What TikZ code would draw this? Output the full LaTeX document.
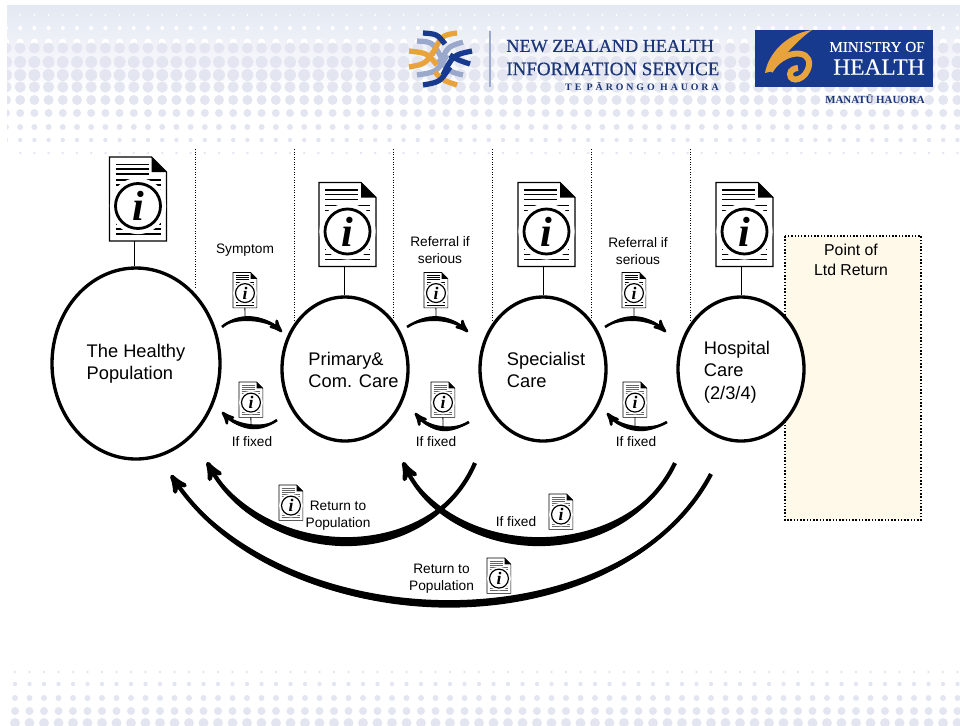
\documentclass[tikz,border=0pt]{standalone}
\usepackage{fontspec}
\setmainfont{Liberation Sans}
\newfontfamily\logoserif[FakeBold=0.4]{Liberation Serif}
\newfontfamily\infoserif{Liberation Serif}
\newfontfamily\logospaced[LetterSpace=30]{Liberation Serif}
\usepackage{xcolor}
\usetikzlibrary{arrows,positioning,shapes.geometric}
\definecolor{bandblue}{HTML}{E3E8F2}
\definecolor{dotblue}{HTML}{E3E6F0}
\definecolor{logonavy}{HTML}{1C3578}
\definecolor{logoblue}{HTML}{17398E}
\definecolor{logoorange}{HTML}{E8A33D}
\definecolor{logogrey}{HTML}{9AA8CC}
\definecolor{boxyellow}{HTML}{FFF9EA}
\tikzset{
>=stealth',
  caremode/.style={
    ellipse,
    draw=black, line width=1.9pt,
    fill=white,
    inner sep=0pt},
  bigtext/.style={font=\fontsize{10.4}{12.8}\selectfont, align=left, inner sep=0pt},
  smalltext/.style={font=\fontsize{7.8}{9.7}\selectfont, align=center, inner sep=0pt},
  divider/.style={densely dotted, line width=.45pt},
  stem/.style={line width=.55pt},
  smallarrow/.style={line width=1.5pt, ->},
  bigarrow/.style={line width=2.4pt, ->},
  weave/.style={line width=3pt},
  pics/infodoc/.style args={#1:#2}{
    code={
      \begin{scope}[scale=#1, line width=#1*.75pt]
        \filldraw[draw=black, fill=white] (0,0) -- (42,0) -- (57,15) -- (57,84) -- (0,84) -- cycle;
        \fill[black] (42,0) -- (57,15) -- (42,15) -- cycle;
        \foreach \ly in {7.5,12,17} {
          \draw[#2] (6,\ly) -- (39,\ly);
        }
        \foreach \ly in {23,28,33,38,43,50,56,62,67,72,77} {
          \draw[#2] (6,\ly) -- (51,\ly);
        }
        \filldraw[draw=white, line width=#1*3pt, fill=white] (28.5,49) circle (25.5);
        \filldraw[draw=black, line width=#1*1.6pt, fill=white] (28.5,49) circle (22.5);
        \node[transform shape, inner sep=0pt, font=\infoserif\bfseries\itshape\fontsize{24}{24}\selectfont] (-i) at (28.5,49) {i};
        \coordinate (-s) at (28.5,84);
      \end{scope}
    }
  }
}
\begin{document}
\begin{tikzpicture}[x=.2mm, y=-.2mm]
    \useasboundingbox (0,0) rectangle (960,725);

    % top band
    \shade[top color=bandblue, bottom color=white] (7,5) rectangle (960,95);
    \begin{scope}
      \clip (7,5) rectangle (960,160);
      \foreach \ry/\rr in {15/1,28/2,42/3.5} {
        \foreach \x in {6,20.2,...,960} {
          \fill[white] (\x,\ry) circle (\rr);
        }
      }
      \foreach \ry/\rr in {48/5.5,62/6,75/6,87/5.6,100/5,113/4,127/3,140/2.2,153/1.4} {
        \foreach \x in {6,20.2,...,960} {
          \fill[dotblue] (\x,\ry) circle (\rr);
        }
      }
    \end{scope}
    % bottom band
    \foreach \ry/\rr in {672/1.4,684/2.2,698/3,711/4,723/5} {
      \foreach \x in {15,29.5,...,960} {
        \fill[dotblue] (\x,\ry) circle (\rr);
      }
    }

    % health information service logo
    \draw[weave, logogrey] (417,41) .. controls (433,42) .. (442,59);
    \draw[weave, logogrey] (463,42) .. controls (447,47) .. (440,65);
    \draw[weave, logogrey] (417,75) .. controls (437,72) .. (447,55);
    \draw[weave, logogrey] (463,75) .. controls (450,72) .. (438,59);
    \draw[weave, logoorange] (457,33) .. controls (442,35) .. (432,55);
    \draw[weave, logoorange] (409,51) .. controls (427,53) .. (437,65);
    \draw[weave, logoorange] (409,67) .. controls (425,64) .. (433,52);
    \draw[weave, logoorange] (457,85) .. controls (442,80) .. (435,72);
    \draw[weave, logoblue] (423,33) .. controls (437,34) .. (445,44);
    \draw[weave, logoblue] (472,51) .. controls (453,55) .. (443,75);
    \draw[weave, logoblue] (470,64) .. controls (458,60) .. (450,55);
    \draw[weave, logoblue] (423,85) .. controls (440,82) .. (450,67);
    \draw[logogrey, line width=.6pt] (490,31) -- (490,87);
    \node[inner sep=0pt, anchor=west, text=logonavy, font=\logoserif\fontsize{10.35}{12}\selectfont] (nzhone) at (506,46) {NEW ZEALAND HEALTH};
    \node[inner sep=0pt, anchor=west, text=logonavy, font=\logoserif\fontsize{10.8}{12}\selectfont] (nzhtwo) at (506,69) {INFORMATION SERVICE};
    \node[inner sep=0pt, anchor=east, text=logonavy, font=\logospaced\bfseries\fontsize{5.6}{7}\selectfont] (nzhthree) at (719,86.5) {TE PĀRONGO HAUORA};

    % ministry logo
    \fill[logoblue] (755,30) rectangle (933,87);
    \fill[logoorange] (812,30) .. controls (785,34) and (768,55) .. (765,73) -- (773,71) .. controls (783,56) and (800,38) .. (812,30) -- cycle;
    \draw[logoorange, line width=3.4pt] (770,71) .. controls (782,50) and (811,48) .. (809,65) .. controls (807,80) and (790,84) .. (790,74) .. controls (790,70) and (795,68) .. (798,68);
    \node[inner sep=0pt, anchor=east, text=white, font=\logoserif\fontsize{8.6}{10}\selectfont] (mohone) at (925,47) {MINISTRY OF};
    \node[inner sep=0pt, anchor=east, text=white, font=\logoserif\fontsize{13.3}{15}\selectfont] (mohtwo) at (925,67) {HEALTH};
    \node[inner sep=0pt, anchor=east, text=logonavy, font=\infoserif\bfseries\fontsize{6.2}{7}\selectfont] (mohthree) at (925,99) {MANATŪ HAUORA};

    % return box
    \filldraw[draw=black, densely dotted, line width=.85pt, fill=boxyellow] (785,236) rectangle (921,520);

    % dividers
    \coordinate (dA) at (195,149);
    \coordinate (dB) at (294,149);
    \coordinate (dC) at (393,149);
    \coordinate (dD) at (492,149);
    \coordinate (dE) at (591,149);
    \coordinate (dF) at (690,149);
    \draw[divider] (dA) -- (195,288);
    \draw[divider] (dB) -- (294,322);
    \draw[divider] (dC) -- (393,318);
    \draw[divider] (dD) -- (492,322);
    \draw[divider] (dE) -- (591,318);
    \draw[divider] (dF) -- (690,322);

    % care circles
    \node[caremode, minimum width=33.6mm, minimum height=38.2mm] (healthy) at (136,363.5) {};
    \node[caremode, minimum width=25.2mm, minimum height=28.8mm] (primary) at (345,369) {};
    \node[caremode, minimum width=25.2mm, minimum height=28.8mm] (specialist) at (543,369) {};
    \node[caremode, minimum width=25.2mm, minimum height=28.8mm] (hospital) at (741,369) {};

    % large documents
    \pic (docA) at (109.5,157) {infodoc=1:black};
    \pic (docB) at (319,182.5) {infodoc=1:black};
    \pic (docC) at (518,182.5) {infodoc=1:black};
    \pic (docD) at (716,182.5) {infodoc=1:black};
    \draw[stem] ([xshift=-.8mm]docA-s) -- ([xshift=-.8mm]docA-s |- healthy.north);
    \draw[stem] ([xshift=-.7mm]docB-s) -- ([xshift=-.7mm]docB-s |- primary.north);
    \draw[stem] ([xshift=-.7mm]docC-s) -- ([xshift=-.7mm]docC-s |- specialist.north);
    \draw[stem] ([xshift=-.7mm]docD-s) -- ([xshift=-.7mm]docD-s |- hospital.north);

    % small documents
    \pic (sdA) at (233,272.5) {infodoc=.42:black};
    \pic (sdB) at (424,272.5) {infodoc=.42:black};
    \pic (sdC) at (622,272.5) {infodoc=.42:black};
    \pic (sdD) at (239,382) {infodoc=.42:black!60};
    \pic (sdE) at (431,382) {infodoc=.42:black!60};
    \pic (sdF) at (623,382) {infodoc=.42:black!60};
    \pic (sdG) at (279,485) {infodoc=.42:black!60};
    \pic (sdH) at (549,494) {infodoc=.42:black!60};
    \pic (sdI) at (487,558) {infodoc=.42:black!60};

    % small arrows
    \coordinate (upA) at (245,317);
    \coordinate (upB) at (436,317);
    \coordinate (upC) at (634,317);
    \coordinate (dnA) at (251,427);
    \coordinate (dnB) at (443,429);
    \coordinate (dnC) at (635,429);
    \draw[stem] (sdA-s) -- (upA);
    \draw[stem] (sdB-s) -- (upB);
    \draw[stem] (sdC-s) -- (upC);
    \draw[stem] (sdD-s) -- (dnA);
    \draw[stem] (sdE-s) -- (dnB);
    \draw[stem] (sdF-s) -- (dnC);
    \draw[smallarrow] (222,327) .. controls (235,315) and (265,315) .. (282,332);
    \fill (222,327) .. controls (235,311.7) and (265,311.7) .. (282,332) .. controls (265,318.3) and (235,318.3) .. cycle;
    \draw[smallarrow] (407,327) .. controls (425,315) and (450,315) .. (468,332);
    \fill (407,327) .. controls (425,311.7) and (450,311.7) .. (468,332) .. controls (450,318.3) and (425,318.3) .. cycle;
    \draw[smallarrow] (605,327) .. controls (623,315) and (648,315) .. (666,332);
    \fill (605,327) .. controls (623,311.7) and (648,311.7) .. (666,332) .. controls (648,318.3) and (623,318.3) .. cycle;
    \draw[smallarrow] (277,420) .. controls (262,431) and (238,429) .. (222,412);
    \fill (277,420) .. controls (262,434.3) and (238,432.3) .. (222,412) .. controls (238,425.7) and (262,427.7) .. cycle;
    \draw[smallarrow] (469,422) .. controls (450,433) and (430,431) .. (415,413);
    \fill (469,422) .. controls (450,436.3) and (430,434.3) .. (415,413) .. controls (430,427.7) and (450,429.7) .. cycle;
    \draw[smallarrow] (667,422) .. controls (648,433) and (622,431) .. (607,413);
    \fill (667,422) .. controls (648,436.3) and (622,434.3) .. (607,413) .. controls (622,427.7) and (648,429.7) .. cycle;

    % large arrows
    \draw[bigarrow] (475,463) .. controls (430,568) and (265,568) .. (207,462);
    \fill (475,463) .. controls (432,574) and (263,574) .. (207,462) .. controls (267,562) and (428,562) .. cycle;
    \draw[bigarrow] (675,463) .. controls (625,568) and (452,568) .. (403,462);
    \fill (675,463) .. controls (627,574) and (450,574) .. (403,462) .. controls (454,562) and (623,562) .. cycle;
    \draw[bigarrow] (711,474) .. controls (620,647) and (285,647) .. (171,475);
    \fill (711,474) .. controls (622,652) and (283,652) .. (171,475) .. controls (287,642) and (618,642) .. cycle;

    % labels
    \node[bigtext] (healthytext) at (136,364) {The Healthy\\Population};
    \node[bigtext] (primarytext) at (353.5,370) {Primary\&\\Com. Care};
    \node[bigtext] (specialisttext) at (546,370) {Specialist\\Care};
    \node[bigtext] (hospitaltext) at (737,372) {Hospital\\Care\\(2/3/4)};
    \node[bigtext, align=center, font=\fontsize{9}{11.3}\selectfont] (returntext) at (851,260) {Point of\\Ltd Return};
    \node[smalltext] (symptom) at (245,250) {Symptom};
    \node[smalltext] (referralA) at (440,250.5) {Referral if\\serious};
    \node[smalltext] (referralB) at (638,251) {Referral if\\serious};
    \node[smalltext] (fixedA) at (252,441.5) {If fixed};
    \node[smalltext] (fixedB) at (436,441.5) {If fixed};
    \node[smalltext] (fixedC) at (636,441.5) {If fixed};
    \node[smalltext] (fixedD) at (516,521.5) {If fixed};
    \node[smalltext] (popA) at (338,516) {Return to\\Population};
    \node[smalltext] (popB) at (441.5,579) {Return to\\Population};
\end{tikzpicture}
\end{document}
